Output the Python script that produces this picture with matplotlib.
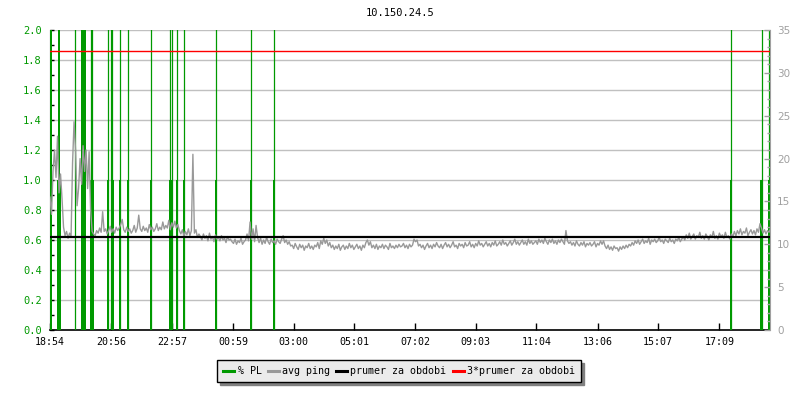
import numpy as np
import matplotlib
matplotlib.use("Agg")
import matplotlib.pyplot as plt
from matplotlib.lines import Line2D
from matplotlib.ticker import MultipleLocator, FormatStrFormatter

# ---------------- data ----------------
title = "10.150.24.5"
x_tick_min = [0, 122, 243, 365, 486, 607, 728, 849, 970, 1092, 1213, 1335]
x_tick_labels = ["18:54", "20:56", "22:57", "00:59", "03:00", "05:01",
                 "07:02", "09:03", "11:04", "13:06", "15:07", "17:09"]
x_end_min = 1436

# packet loss blocks (minutes from start, duration, value)
pl_start = [0, 14, 15, 49, 62, 80, 114, 122, 138, 154, 200, 237, 251, 265,
            329, 399, 445, 1356, 1416, 1432]
pl_dur = [4, 7, 4, 3, 9, 8, 4, 6, 4, 4, 4, 8, 4, 4, 4, 4, 4, 4, 7, 4]
pl_value = [3, 1, 3, 1, 3, 1, 1, 1, 1, 1, 1, 1, 1, 1, 1, 1, 1, 1, 1, 1]
# short packet loss peaks
pl_peak_min = [49.5, 81, 84.5, 116, 122.5, 124.5, 140, 156, 201, 238.5, 242.5,
               254, 268, 331, 401, 447.5, 1359, 1419.5, 1434]
pl_peak_val = [100] * len(pl_peak_min)

# avg ping [ms], one value every 3 minutes
ping_ms = [
    15.5, 13.5, 18.5, 21.0, 17.8, 22.6, 16.0, 18.2, 15.3, 12.0,
    11.0, 11.5, 10.7, 11.3, 10.9, 19.5, 24.3, 21.0, 14.5, 16.5,
    20.0, 17.0, 21.5, 18.5, 21.0, 16.5, 20.8, 14.0, 11.5,
    11.2, 11.0, 11.6, 11.3, 11.9, 11.4, 13.8, 11.5, 11.8, 11.2,
    11.6, 12.1, 11.4, 11.8, 11.3, 12.0, 11.6, 11.9, 12.3, 12.9,
    11.7, 11.4, 12.0, 11.5, 11.8, 11.3, 11.6, 12.2, 11.4, 11.9,
    13.4, 11.8, 11.5, 12.1, 11.6, 11.9, 11.4, 12.3, 11.7, 12.0,
    11.5, 11.8, 12.4, 11.6, 12.0, 11.7, 12.6, 11.8, 12.2, 11.9,
    12.8, 11.7, 12.5, 12.0, 12.7, 11.9, 12.3, 11.6,
    11.2, 11.7, 10.9, 11.5, 11.1, 11.8, 11.0, 11.6, 20.5, 11.3, 11.7, 10.8, 11.2,
    10.9, 10.5, 11.2, 10.7, 11.0, 10.4, 11.3, 10.6, 10.9, 10.3,
    11.1, 10.6, 10.8, 10.4, 11.0, 10.5, 10.7, 10.2, 10.9, 10.5, 10.6, 10.3,
    10.1, 10.6, 10.0, 10.4, 10.2, 10.7, 10.0, 10.3, 10.5,
    11.2, 10.4, 12.6, 10.6, 11.8, 10.3, 12.2, 10.8,
    10.2, 10.7, 10.0, 10.5, 10.1, 10.8, 10.3, 10.0, 10.6, 10.2, 10.4, 10.0, 10.6,
    10.3, 10.1, 10.6, 11.0, 10.2, 10.5, 10.0, 10.3, 9.8,
    9.9, 9.5, 10.1, 9.7, 9.4, 10.0, 9.6, 9.9, 9.3, 9.8,
    9.6, 10.1, 9.5, 9.8, 9.4, 9.9, 9.7, 10.2, 9.5, 10.4,
    10.0, 10.7, 10.1, 10.5, 9.8, 10.2, 9.6, 9.9, 9.4, 9.8,
    9.5, 10.0, 9.3, 9.7, 9.9, 9.4, 9.8, 9.5, 10.1, 9.6,
    9.9, 9.4, 9.7, 10.0, 9.5, 9.8, 9.3, 9.9, 9.6, 10.2,
    10.5, 9.9, 10.3, 9.6, 9.9, 9.5, 10.0, 9.4, 9.8, 9.6,
    10.0, 9.5, 9.9, 9.7, 9.4, 10.1, 9.6, 9.8, 9.5, 9.9, 9.6, 10.0, 9.7,
    9.8, 10.1, 9.6, 9.9, 9.5, 10.0, 9.7, 9.9, 10.6, 10.3,
    10.5, 9.8, 10.0, 9.6, 9.9, 9.4, 9.8, 10.1, 9.6, 9.9,
    9.5, 10.0, 9.7, 10.2, 9.8, 9.6, 10.0, 9.5, 9.9, 10.2,
    9.7, 10.0, 9.6, 9.9, 10.3, 9.7, 9.9, 9.5, 10.1, 9.8,
    10.0, 9.6, 10.2, 9.8, 9.9, 10.3, 9.7, 10.0, 9.6, 10.1,
    9.8, 10.4, 9.9, 10.1, 9.7, 10.0, 10.3, 9.8, 10.1, 9.7,
    10.2, 9.9, 10.4, 9.8, 10.0, 10.3, 9.9, 10.5, 10.0, 10.2,
    9.8, 10.1, 10.4, 9.9, 10.2, 10.6, 10.0, 10.3, 9.9, 10.2,
    10.5, 10.0, 10.3, 9.9, 10.6, 10.1, 10.4, 10.0, 10.2,
    10.4, 10.0, 10.6, 10.2, 10.5, 10.1, 10.7, 10.3, 10.0, 10.5,
    10.2, 10.6, 10.1, 10.4, 10.0, 10.5, 10.2, 10.6, 10.3, 10.0,
    11.6, 10.4, 10.1,
    10.3, 9.9, 10.2, 9.8, 10.4, 10.0, 9.8, 10.2, 9.9, 10.3,
    9.7, 10.1, 9.9, 10.2, 9.8, 10.0, 10.3, 9.7, 10.1, 9.9, 10.4, 10.0,
    10.4, 9.8, 9.5, 9.9, 9.4, 9.7, 9.3, 9.8, 9.5, 9.6,
    9.2, 9.7, 9.4, 9.8, 9.5, 9.9, 9.6, 10.0,
    9.8, 10.2, 9.9, 10.4, 10.1, 10.5, 10.0, 10.3, 10.6, 10.1,
    10.4, 10.2, 10.7, 10.0, 10.5, 10.3, 10.6, 10.2, 10.4, 10.8,
    10.3, 10.5, 10.1, 10.6, 10.4, 10.2, 10.7, 10.3, 10.5, 10.1,
    10.6, 10.4, 10.8, 10.3, 10.6,
    10.9, 10.5, 11.1, 10.7, 11.3, 10.6, 10.9, 11.2, 10.6, 11.0,
    10.8, 11.4, 10.7, 11.0, 10.6, 11.2, 10.9, 10.5, 11.1, 10.8,
    11.5, 10.7, 11.0, 10.6, 11.3, 10.9, 11.1, 10.7, 11.4, 10.8,
    11.0, 10.6, 11.2, 10.9, 11.5,
    11.0, 11.6, 11.2, 11.8, 11.1, 11.5, 11.3, 11.9, 11.0, 11.4,
    11.7, 11.2, 11.6, 11.1, 11.8, 11.4, 12.4, 11.9, 11.3, 11.7,
    11.2, 11.6, 11.4, 11.8,
]
ping_step_min = 3
mean_ping = 10.85

legend_labels = ["% PL", "avg ping", "prumer za obdobi", "3*prumer za obdobi"]

# ---------------- style ----------------
GREEN = "#009900"
GRAY = "#999999"
AXGRAY = "#a0a0a0"
MONO = ["DejaVu Sans Mono"]
FS = 7.2

fig = plt.figure(figsize=(8, 4), dpi=100, facecolor="white")
ax = fig.add_axes([50 / 800, 70 / 400, 720 / 800, 300 / 400])
ax2 = ax.twinx()

ping_t = np.arange(len(ping_ms)) * ping_step_min

# grid
ax.set_axisbelow(True)
ax.yaxis.grid(True, which="major", color="#c0c0c0", lw=1.0)
ax.xaxis.grid(False)

# packet loss
ax.bar(pl_start, pl_value, width=pl_dur, align="edge", color=GREEN, lw=0, zorder=3)
ax.vlines(pl_peak_min, 0, pl_peak_val, color=GREEN, lw=0.9, zorder=3)

ax.set_xlim(0, x_end_min)
ax.set_ylim(0, 2.0)

# ping on right axis
ax2.plot(ping_t, ping_ms, color=GRAY, lw=1.0, zorder=3)
ax2.axhline(mean_ping, color="black", lw=1.6, zorder=4)
ax2.axhline(3 * mean_ping, color="#ff0000", lw=1.0, zorder=5)
ax2.set_ylim(0, 35)
ax2.set_xlim(0, x_end_min)

# spines
for a in (ax, ax2):
    a.spines["top"].set_visible(False)
ax.spines["right"].set_visible(False)
ax2.spines["left"].set_visible(False)
ax2.spines["bottom"].set_visible(False)
ax2.spines["right"].set_color(AXGRAY)
ax.spines["left"].set_color("black")
ax.spines["bottom"].set_color("black")
ax.spines["bottom"].set_linewidth(1.2)

# ticks
ax.set_xticks(x_tick_min)
ax.set_xticklabels(x_tick_labels, fontfamily=MONO, fontsize=FS, color="black")
ax.tick_params(axis="x", direction="in", length=5, width=1, color="black", pad=5)

ax.yaxis.set_major_locator(MultipleLocator(0.2))
ax.yaxis.set_minor_locator(MultipleLocator(0.1))
ax.yaxis.set_major_formatter(FormatStrFormatter("%.1f"))
ax.tick_params(axis="y", which="major", direction="in", length=3, width=1,
               color="black", labelcolor=GREEN, labelsize=FS + 0.3, pad=6)
ax.tick_params(axis="y", which="minor", direction="in", length=3, width=1, color="black")
for lbl in ax.get_yticklabels():
    lbl.set_fontfamily(MONO)

ax2.yaxis.set_major_locator(MultipleLocator(5))
ax2.yaxis.set_minor_locator(MultipleLocator(1))
ax2.tick_params(axis="y", which="major", direction="in", length=4, width=1,
                color=AXGRAY, labelcolor=AXGRAY, labelsize=7.5, pad=5)
ax2.tick_params(axis="y", which="minor", direction="in", length=2, width=1, color=AXGRAY)

# title
fig.text(0.5, 1 - 13 / 400, title, ha="center", va="center",
         fontfamily=MONO, fontsize=FS + 0.3, color="black")

# legend
handles = [Line2D([], [], color=GREEN, lw=2.2),
           Line2D([], [], color=GRAY, lw=2.2),
           Line2D([], [], color="black", lw=2.2),
           Line2D([], [], color="#ff0000", lw=2.2)]
leg = fig.legend(handles, legend_labels, loc="center",
                 bbox_to_anchor=(399 / 800, 1 - 371 / 400), ncol=4,
                 frameon=True, fancybox=False, shadow={"color": "#808080", "alpha": 1},
                 facecolor="#ebebeb", edgecolor="black", framealpha=1,
                 prop={"family": MONO, "size": FS},
                 handlelength=1.1, handletextpad=0.35, columnspacing=0.6,
                 borderpad=0.6, borderaxespad=0)
leg.get_frame().set_linewidth(1.0)

fig.savefig("out.png", dpi=100, facecolor="white")
